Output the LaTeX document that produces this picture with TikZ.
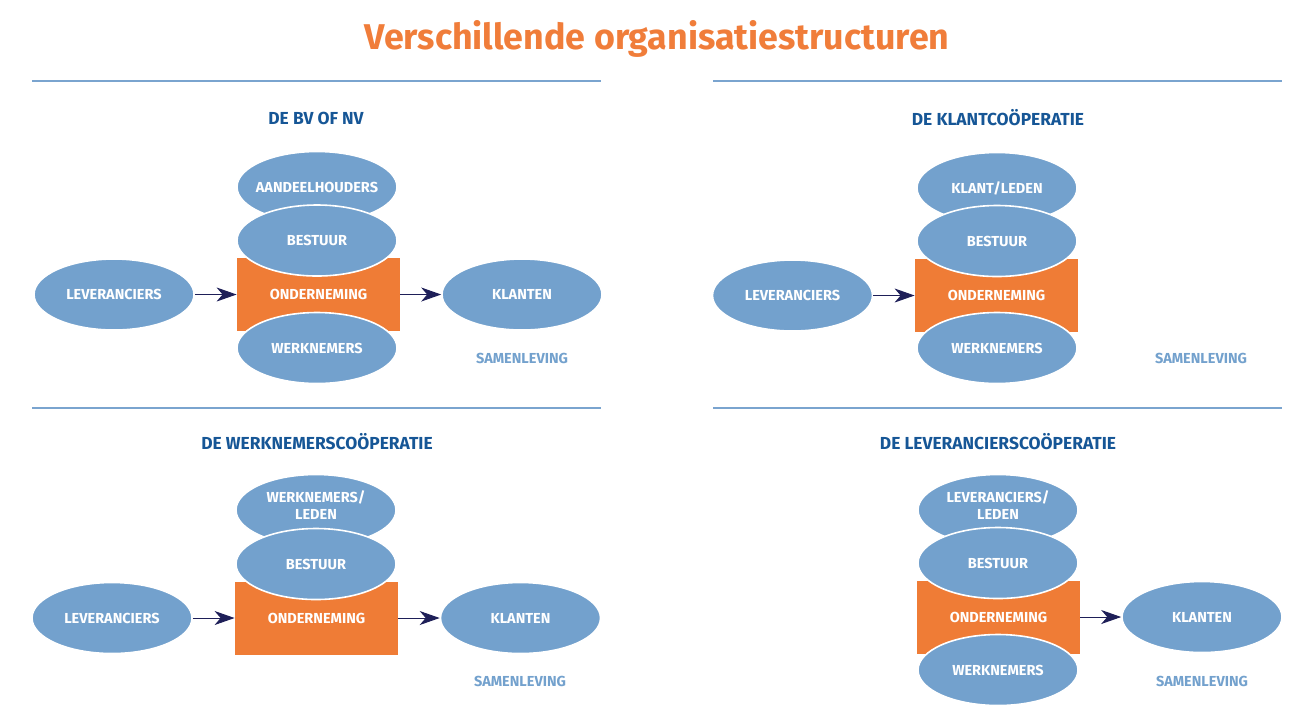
\documentclass[tikz,border=0pt]{standalone}
\usepackage{fontspec}
\setmainfont{Fira Sans}
\usetikzlibrary{shapes.geometric,arrows.meta}
\definecolor{ellblue}{RGB}{115,161,205}
\definecolor{ondorange}{RGB}{239,124,54}
\definecolor{titelorange}{RGB}{240,125,58}
\definecolor{kopblue}{RGB}{22,86,150}
\definecolor{lijnblue}{RGB}{122,164,207}
\definecolor{arrnavy}{RGB}{30,31,88}
\begin{document}
\begin{tikzpicture}[x=0.5pt,y=-0.5pt,
  ell/.style={ellipse, fill=ellblue, draw=white, line width=0.8pt, minimum width=80pt, minimum height=35.5pt, inner xsep=-3pt, inner ysep=0pt, text=white, align=center, font=\bfseries\fontsize{7.25}{8.75}\selectfont},
  ond/.style={rectangle, fill=ondorange, minimum width=81.5pt, minimum height=36.5pt, inner sep=0pt, text=white, font=\bfseries\fontsize{7.25}{8.75}\selectfont},
  kop/.style={text=kopblue, inner sep=0pt, font=\bfseries\fontsize{8.7}{10}\selectfont},
  sam/.style={text=ellblue, inner sep=0pt, font=\bfseries\fontsize{7.25}{8.75}\selectfont},
  arr/.style={draw=arrnavy, line width=0.5pt, -{Stealth[length=10pt,width=7pt,inset=3pt]}},
  lijn/.style={draw=lijnblue, line width=0.8pt}]
\useasboundingbox (0,0) rectangle (1311,720);
\node[text=titelorange, inner sep=0pt, font=\bfseries\fontsize{17.9}{22}\selectfont] (titel) at (657,39) {Verschillende organisatiestructuren};
\draw[lijn] (32,81) -- (601,81);
\draw[lijn] (713,81) -- (1282,81);
\draw[lijn] (32,408) -- (601,408);
\draw[lijn] (713,408) -- (1282,408);

% de bv of nv
\node[kop] (kop1) at (316,118) {DE BV OF NV};
\node[ond] (ond1) at (318.5,294.5) {ONDERNEMING};
\node[ell] (aan1) at (317,187) {AANDEELHOUDERS};
\node[ell] (bes1) at (317,240.5) {BESTUUR};
\node[ell] (wer1) at (317,348) {WERKNEMERS};
\node[ell] (lev1) at (114,294.5) {LEVERANCIERS};
\node[ell] (kla1) at (522,294.5) {KLANTEN};
\node[sam] (sam1) at (522,358) {SAMENLEVING};
\draw[arr] (lev1) -- (ond1);
\draw[arr] (ond1) -- (kla1);

% de klantcooperatie
\node[kop] (kop2) at (998,118) {DE KLANTCOÖPERATIE};
\node[ond] (ond2) at (996.5,295.5) {ONDERNEMING};
\node[ell] (led2) at (997,188) {KLANT/LEDEN};
\node[ell] (bes2) at (997,241) {BESTUUR};
\node[ell] (wer2) at (997,348) {WERKNEMERS};
\node[ell] (lev2) at (792.5,295.5) {LEVERANCIERS};
\node[sam] (sam2) at (1201,358) {SAMENLEVING};
\draw[arr] (lev2) -- (ond2);

% de werknemerscooperatie
\node[kop] (kop3) at (317,442) {DE WERKNEMERSCOÖPERATIE};
\node[ond] (ond3) at (316.5,618) {ONDERNEMING};
\node[ell] (led3) at (316,510) {WERKNEMERS/\\LEDEN\rule[-5pt]{0pt}{5pt}};
\node[ell] (bes3) at (316,564) {BESTUUR};
\node[ell] (lev3) at (112,618) {LEVERANCIERS};
\node[ell] (kla3) at (520.5,618) {KLANTEN};
\node[sam] (sam3) at (520,681) {SAMENLEVING};
\draw[arr] (lev3) -- (ond3);
\draw[arr] (ond3) -- (kla3);

% de leveranciers cooperatie
\node[kop] (kop4) at (998,442) {DE LEVERANCIERSCOÖPERATIE};
\node[ond] (ond4) at (998.5,617) {ONDERNEMING};
\node[ell] (led4) at (998,510) {LEVERANCIERS/\\LEDEN\rule[-5pt]{0pt}{5pt}};
\node[ell] (bes4) at (998,563) {BESTUUR};
\node[ell] (wer4) at (998,670) {WERKNEMERS};
\node[ell] (kla4) at (1202,617) {KLANTEN};
\node[sam] (sam4) at (1202,681) {SAMENLEVING};
\draw[arr] (ond4) -- (kla4);

\end{tikzpicture}
\end{document}
